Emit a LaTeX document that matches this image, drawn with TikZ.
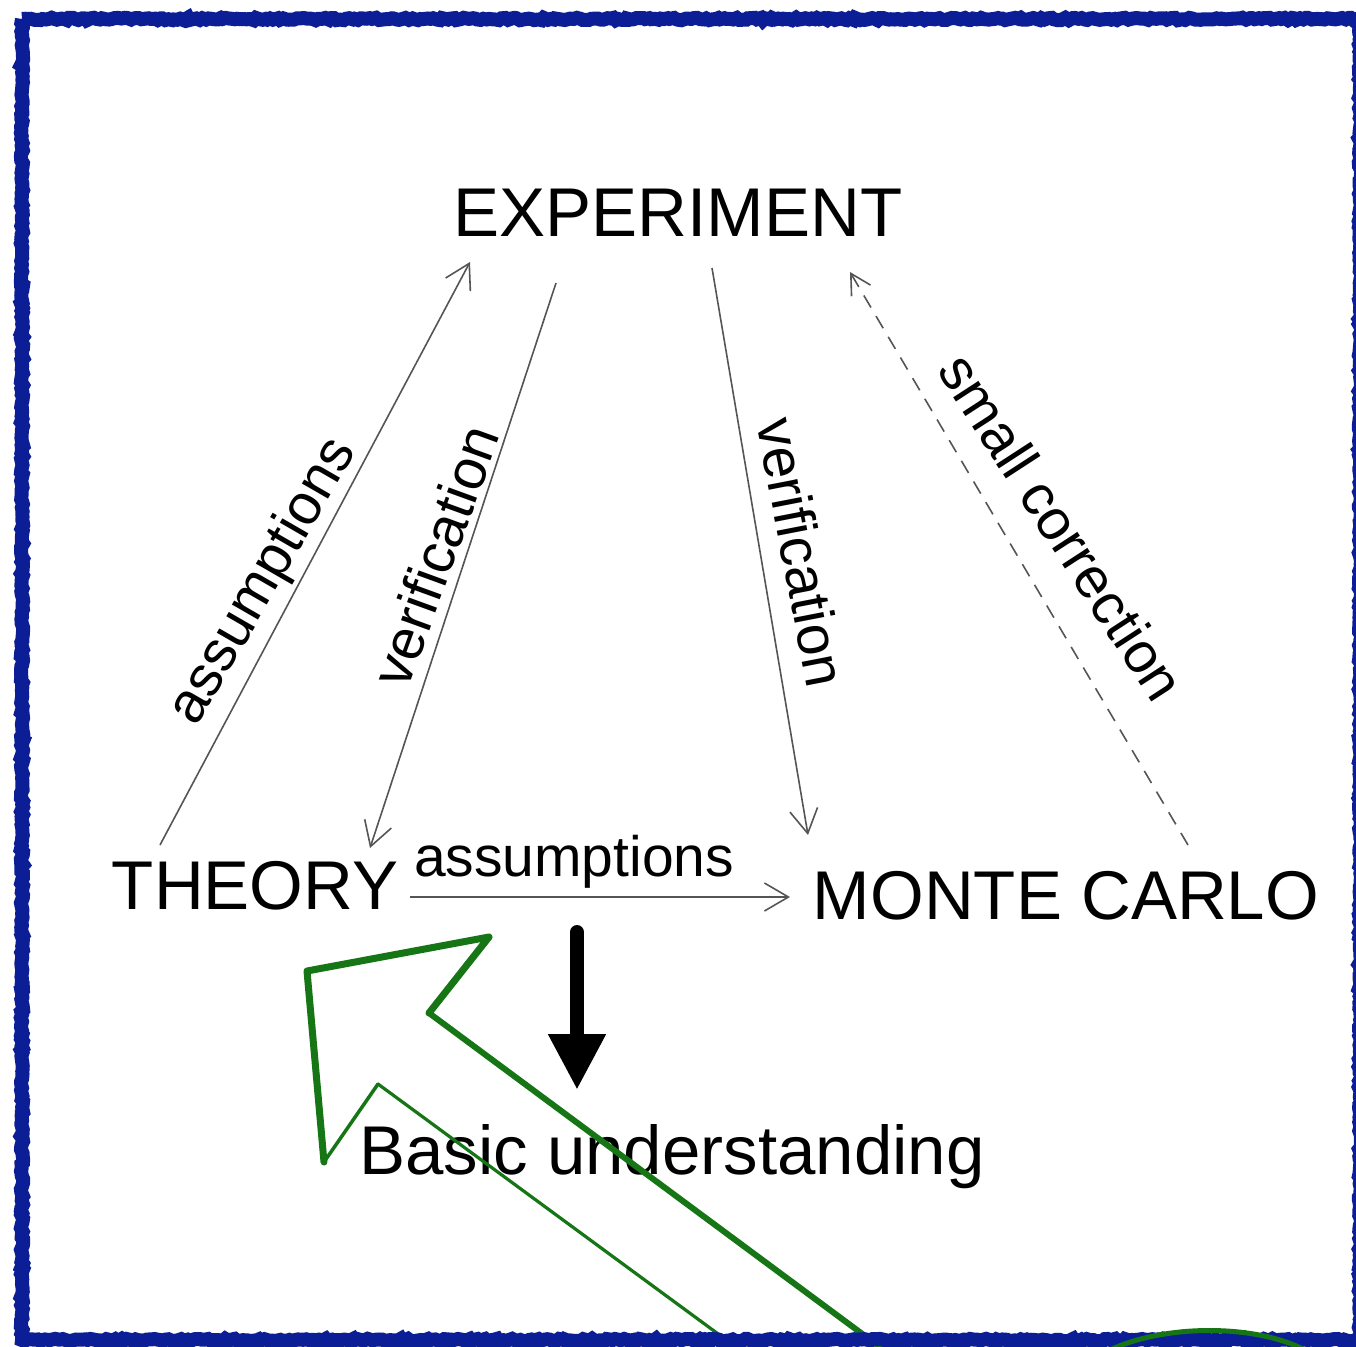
\documentclass[tikz,border=0pt]{standalone}
\usepackage{fontspec}
\setmainfont{Liberation Sans}
\usetikzlibrary{arrows.meta,decorations.pathmorphing}
\definecolor{bordblue}{RGB}{12,30,150}
\definecolor{pengreen}{RGB}{22,118,22}
\definecolor{thingray}{RGB}{85,85,85}
\tikzset{
  bigtext/.style={font=\fontsize{69}{80}\selectfont, inner sep=0pt, text=black},
  lbltext/.style={font=\fontsize{57}{66}\selectfont, inner sep=0pt, text=black},
  thinarrow/.style={draw=thingray, line width=1.6pt, -{Straight Barb[length=24pt,width=28pt,line width=1.6pt]}},
  dasharrow/.style={draw=thingray, line width=1.6pt, dash pattern=on 14pt off 10pt, -{Straight Barb[length=20pt,width=22pt,line width=1.6pt]}},
  roughborder/.style={draw=bordblue, line width=14pt, decorate, decoration={random steps, segment length=3pt, amplitude=1.2pt}},
  greenline/.style={draw=pengreen, line cap=round, line join=round}
}
\begin{document}
\begin{tikzpicture}[x=1pt,y=-1pt]
\useasboundingbox (0,0) rectangle (1356,1346);
\fill[white] (0,0) rectangle (1356,1346);
\begin{scope}
\clip (0,0) rectangle (1356,1346);
% main nodes
\node[bigtext] (exp) at (678,213) {EXPERIMENT};
\node[bigtext] (theory) at (255,886) {THEORY};
\node[bigtext] (mc) at (1066,896) {MONTE CARLO};
\node[bigtext] (basic) at (672,1157) {Basic understanding};
% connector end points
\coordinate (a1s) at (160,845);
\coordinate (a1e) at (470,262);
\coordinate (v1s) at (556,283);
\coordinate (v1e) at (370,848);
\coordinate (v2s) at (712,268);
\coordinate (v2e) at (808,835);
\coordinate (scs) at (1188,845);
\coordinate (sce) at (850,272);
\coordinate (a2s) at (410,897);
\coordinate (a2e) at (790,897);
\coordinate (bds) at (577,932);
\coordinate (bde) at (577,1090);
% connectors
\draw[thinarrow] (a1s) -- (a1e);
\draw[thinarrow] (v1s) -- (v1e);
\draw[thinarrow] (v2s) -- (v2e);
\draw[dasharrow] (scs) -- (sce);
\draw[thinarrow] (a2s) -- (a2e);
\draw[line width=14pt, line cap=round, -{Triangle[length=56pt,width=54pt]}] (bds) -- (bde);
% labels
\node[lbltext, rotate=60] (la1) at (264,582) {assumptions};
\node[lbltext, rotate=70] (lv1) at (435,556) {verification};
\node[lbltext, rotate=-79] (lv2) at (802,552) {verification};
\node[lbltext, rotate=-57] (lsc) at (1062,527) {small correction};
\node[lbltext] (la2) at (574,862) {assumptions};
% green hollow arrow
\coordinate (gtip) at (307,971);
\coordinate (gtr) at (489,937);
\coordinate (gbl) at (324,1162);
\coordinate (gnr) at (429,1013);
\coordinate (gnl) at (378,1084);
\coordinate (gsr) at (884,1350);
\coordinate (gsl) at (740,1350);
\draw[greenline, line width=7pt] (gnr) -- (gtr) -- (gtip) -- (gbl);
\draw[greenline, line width=3.5pt] (gbl) -- (gnl);
\draw[greenline, line width=6pt] (gnr) -- (gsr);
\draw[greenline, line width=3.2pt] (gnl) -- (gsl);
% border
\draw[roughborder] (22,19) -- (1360,19) (22,19) -- (22,1340) -- (1360,1340) (1360,19) -- (1360,1340);
% green curve at the bottom right
\draw[greenline, line width=5pt] (1110,1350) .. controls (1165,1324) and (1255,1324) .. (1305,1350);
\end{scope}
\end{tikzpicture}
\end{document}
